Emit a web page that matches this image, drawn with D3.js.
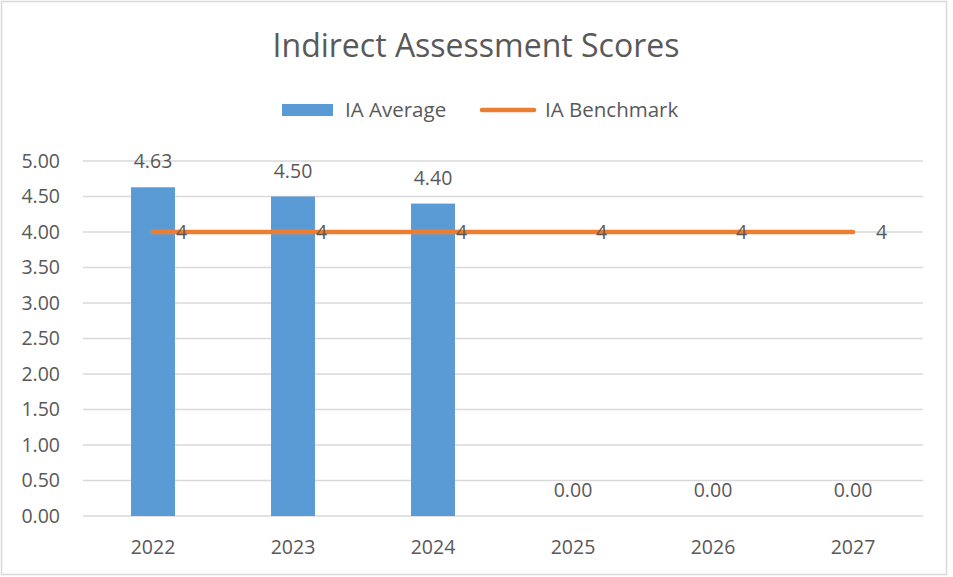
<!DOCTYPE html>
<html>
<head>
<meta charset="utf-8">
<script src="https://cdn.jsdelivr.net/npm/d3@7"></script>
<style>
  body { margin: 0; background: #fff; }
  svg text { font-family: "Open Sans", "Noto Sans", sans-serif; fill: #595959; }
</style>
</head>
<body>
<svg id="chart"></svg>
<script>
const years = ["2022", "2023", "2024", "2025", "2026", "2027"];
const iaAverage = [4.63, 4.50, 4.40, 0, 0, 0];
const iaBenchmark = [4, 4, 4, 4, 4, 4];
const yTicks = [0, 0.5, 1, 1.5, 2, 2.5, 3, 3.5, 4, 4.5, 5];

const W = 953, H = 577;
const margin = { top: 161, right: 30, bottom: 61, left: 83 };
const fs = 19.5;

const svg = d3.select("#chart").attr("width", W).attr("height", H);

// outer border
svg.append("rect")
    .attr("x", 1.5).attr("y", 1.5)
    .attr("width", 945).attr("height", 573)
    .attr("fill", "#fff")
    .attr("stroke", "#d9d9d9").attr("stroke-width", 1.5);

const x = d3.scaleBand()
    .domain(years)
    .range([margin.left, W - margin.right])
    .paddingInner(0.686).paddingOuter(0.343);

const xc = d3.scalePoint().domain(years).range([margin.left, W - margin.right]).padding(0.5);

const y = d3.scaleLinear()
    .domain([0, 5])
    .range([H - margin.bottom, margin.top]);

// gridlines
svg.append("g")
    .selectAll("line")
    .data(yTicks)
    .enter().append("line")
    .attr("x1", margin.left).attr("x2", W - margin.right)
    .attr("y1", d => y(d)).attr("y2", d => y(d))
    .attr("stroke", "#d9d9d9").attr("stroke-width", 1.3);

// y axis labels
const yAxis = svg.append("g")
    .attr("transform", "translate(" + (margin.left - 23) + ",0)")
    .call(d3.axisLeft(y).tickValues(yTicks).tickFormat(d3.format(".2f")).tickSize(0).tickPadding(0));
yAxis.select(".domain").remove();
yAxis.selectAll("text").attr("font-size", fs).attr("fill", "#595959").attr("font-family", null);

// x axis labels
const xAxis = svg.append("g")
    .attr("transform", "translate(0," + (H - margin.bottom) + ")")
    .call(d3.axisBottom(x).tickSize(0).tickPadding(24));
xAxis.select(".domain").remove();
xAxis.selectAll("text").attr("font-size", fs).attr("fill", "#595959").attr("font-family", null);

// bars
svg.append("g")
    .selectAll("rect")
    .data(iaAverage)
    .enter().append("rect")
    .attr("x", (d, i) => x(years[i]))
    .attr("width", x.bandwidth())
    .attr("y", d => y(d))
    .attr("height", d => y(0) - y(d))
    .attr("fill", "#5b9bd5");

// bar labels
svg.append("g")
    .selectAll("text")
    .data(iaAverage)
    .enter().append("text")
    .attr("x", (d, i) => xc(years[i]))
    .attr("y", d => y(d) - 19)
    .attr("text-anchor", "middle")
    .attr("font-size", fs)
    .text(d => d3.format(".2f")(d));

// benchmark line
svg.append("path")
    .datum(iaBenchmark)
    .attr("fill", "none")
    .attr("stroke", "#ed7d31")
    .attr("stroke-width", 4.5)
    .attr("stroke-linecap", "round")
    .attr("d", d3.line()
        .x((d, i) => xc(years[i]))
        .y(d => y(d)));

// benchmark labels
svg.append("g")
    .selectAll("text")
    .data(iaBenchmark)
    .enter().append("text")
    .attr("x", (d, i) => xc(years[i]) + 23)
    .attr("y", d => y(d))
    .attr("dy", "0.35em")
    .attr("font-size", fs)
    .text(d => d);

// title
svg.append("text")
    .attr("x", 476).attr("y", 57)
    .attr("text-anchor", "middle")
    .attr("font-size", 32)
    .text("Indirect Assessment Scores");

// legend
const legend = svg.append("g");
legend.append("rect")
    .attr("x", 282).attr("y", 104)
    .attr("width", 51).attr("height", 12)
    .attr("fill", "#5b9bd5");
legend.append("text")
    .attr("x", 345).attr("y", 110).attr("dy", "0.35em")
    .attr("font-size", 20.5)
    .text("IA Average");
legend.append("line")
    .attr("x1", 482).attr("x2", 534)
    .attr("y1", 110).attr("y2", 110)
    .attr("stroke", "#ed7d31").attr("stroke-width", 4.5)
    .attr("stroke-linecap", "round");
legend.append("text")
    .attr("x", 545).attr("y", 110).attr("dy", "0.35em")
    .attr("font-size", 20.5)
    .text("IA Benchmark");
</script>
</body>
</html>
